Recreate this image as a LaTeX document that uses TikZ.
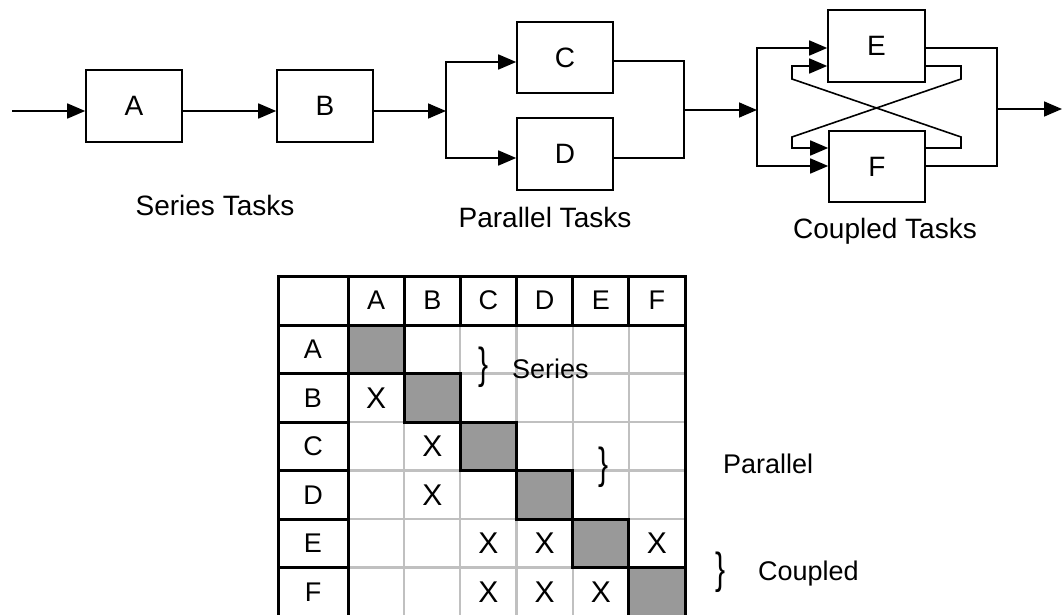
\documentclass[tikz,border=0pt]{standalone}
\usepackage{fontspec}
\setmainfont{Liberation Sans}
\usepackage{graphicx}
\usetikzlibrary{arrows.meta}
\definecolor{diagfill}{HTML}{999999}
\definecolor{gridgray}{HTML}{C0C0C0}
\begin{document}
\begin{tikzpicture}[x=1pt,y=-1pt,
  box/.style={draw,line width=1.6pt,minimum width=96pt,minimum height=72pt,inner sep=0pt,font=\fontsize{28}{32}\selectfont},
  ln/.style={line width=1.6pt},
  arr/.style={ln,-{Triangle[length=18pt,width=15pt]}},
  lbl/.style={font=\fontsize{28}{32}\selectfont,anchor=base,inner sep=0pt},
  mlbl/.style={font=\fontsize{27}{30}\selectfont,inner sep=0pt},
  xm/.style={font=\fontsize{30}{32}\selectfont,inner sep=0pt},
  bl/.style={line width=3pt,black},
  gl/.style={line width=2.2pt,gridgray},
  brc/.style={inner sep=0pt},
  btxt/.style={font=\fontsize{27}{30}\selectfont,anchor=base west,inner sep=0pt}]
\useasboundingbox (0,0) rectangle (1063,615);
\fill[white] (0,0) rectangle (1063,615);

% ---- task graphs ----
\node[box] (A) at (134,106) {A};
\node[box] (B) at (325,106) {B};
\node[box,minimum height=71pt] (C) at (565,57.5) {C};
\node[box] (D) at (565,154) {D};
\node[box,minimum width=97pt] (E) at (876.5,46) {E};
\node[box,minimum height=71pt] (F) at (877,166.5) {F};

\coordinate (in) at (12,111);
\coordinate (s1) at (446,111);
\coordinate (j1) at (684,110);
\coordinate (s2) at (757,110);
\coordinate (j2) at (997,109);
\coordinate (out) at (1062,109);

\draw[arr] (in) -- (A.west |- in);
\draw[arr] (A.east |- in) -- (B.west |- in);
\draw[arr] (B.east |- in) -- (s1);
\draw[arr] (s1) |- (C.west |- 0,62);
\draw[arr] (s1) |- (D.west |- 0,158);
\draw[ln] (C.east |- 0,61) -| (j1) |- (D.east |- 0,158);
\draw[arr] (j1) -- (s2);
\draw[arr] (s2) |- (E.west |- 0,48);
\draw[arr] (s2) |- (F.west |- 0,166);
\draw[ln] (E.east |- 0,48) -| (j2) |- (F.east |- 0,166);
\draw[arr] (j2) -- (out);
\draw[arr] (E.east |- 0,66) -- (961,66) -- (961,79) -- (792,137) -- (792,148) -- (F.west |- 0,148);
\draw[arr] (F.east |- 0,148) -- (961,148) -- (961,137) -- (792,79) -- (792,66) -- (E.west |- 0,66);

\node[lbl] (lser) at (215,215) {Series Tasks};
\node[lbl] (lpar) at (545,227) {Parallel Tasks};
\node[lbl] (lcou) at (885,238) {Coupled Tasks};

% ---- DSM matrix ----
\foreach \i in {1,...,5} {
  \draw[gl] (348+\i*56.17,325) -- (348+\i*56.17,617);
  \draw[gl] (348,325+\i*48.5) -- (685,325+\i*48.5);
}
\foreach \i in {0,...,5}
  \draw[bl,fill=diagfill] (348+\i*56.17,325+\i*48.5) rectangle ++(56.17,48.5);
\draw[bl] (278,617) -- (278,276) -- (685,276) -- (685,617);
\draw[bl] (278,325) -- (685,325);
\draw[bl] (348,276) -- (348,617);
\foreach \i in {1,...,5} {
  \draw[bl] (348+\i*56.17,276) -- (348+\i*56.17,325);
  \draw[bl] (278,325+\i*48.5) -- (348,325+\i*48.5);
}
\foreach \l [count=\i from 0] in {A,B,C,D,E,F} {
  \node[mlbl] (h\l) at (376.09+\i*56.17,300.5) {\l};
  \node[mlbl] (r\l) at (313,349.25+\i*48.5) {\l};
}
\foreach \c/\r in {0/1,1/2,1/3,2/4,3/4,5/4,2/5,3/5,4/5}
  \node[xm] (x\c\r) at (376.09+\c*56.17,349.25+\r*48.5) {X};

% ---- braces ----
\node[brc] (bser) at (484,367.5) {\scalebox{1}[1.45]{\fontsize{30}{30}\selectfont\}}};
\node[btxt] (tser) at (512,378) {Series};
\node[brc] (bpar) at (604,467.5) {\scalebox{1}[1.45]{\fontsize{30}{30}\selectfont\}}};
\node[btxt] (tpar) at (723,473) {Parallel};
\node[brc] (bcou) at (721,572.5) {\scalebox{1}[1.45]{\fontsize{30}{30}\selectfont\}}};
\node[btxt] (tcou) at (758,580) {Coupled};
\end{tikzpicture}
\end{document}
